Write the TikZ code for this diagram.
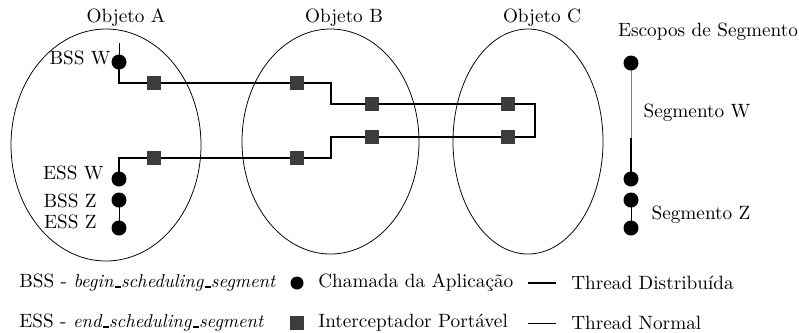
\documentclass[tikz,border=0pt]{standalone}
\usepackage{tikz}
\usetikzlibrary{shapes, backgrounds}
\newcommand{\pxu}{0.52pt}
\newcommand{\barra}{\kern.06em\rule{.32em}{0.9pt}\kern.02em}
\newcommand{\funcao}[1]{{\fontsize{9.7pt}{11pt}\selectfont\textit{#1}}}
\definecolor{interc}{RGB}{60,60,60}
\tikzstyle{objeto} = [ellipse, draw=black, thin, inner sep=0pt]
\tikzstyle{chamada} = [circle, fill=black, inner sep=0pt, minimum size=15*\pxu]
\tikzstyle{interceptor} = [rectangle, fill=interc, inner sep=0pt, minimum size=14*\pxu]
\tikzstyle{rotulo} = [inner sep=1pt, font=\normalsize]
\tikzstyle{distribuida} = [line width=2*\pxu, black]
\tikzstyle{normal} = [thin, black]

\begin{document}
\begin{tikzpicture}[x=\pxu, y=-\pxu]
\useasboundingbox (0,0) rectangle (799,332);

% objetos
\node (objA) [objeto, minimum width=190*\pxu, minimum height=232*\pxu] at (106,145) {};
\node (objB) [objeto, minimum width=177*\pxu, minimum height=225*\pxu] at (330.5,141.5) {};
\node (objC) [objeto, minimum width=150*\pxu, minimum height=225*\pxu] at (528,141.5) {};
\node (labelA) [rotulo] at (126,18) {Objeto A};
\node (labelB) [rotulo] at (344,18) {Objeto B};
\node (labelC) [rotulo] at (542,18) {Objeto C};

% chamadas da aplicacao no objeto A
\node (bssw) [chamada] at (119,62) {};
\node (essw) [chamada] at (119,179) {};
\node (bssz) [chamada] at (119,200) {};
\node (essz) [chamada] at (119,228) {};
\node (lbssw) [rotulo, anchor=east] at (113,58) {BSS W};
\node (lessw) [rotulo, anchor=east] at (106,173) {ESS W};
\node (lbssz) [rotulo, anchor=east] at (99,201) {BSS Z};
\node (lessz) [rotulo, anchor=east] at (99,222) {ESS Z};

% interceptadores
\node (ia1) [interceptor] at (154,83) {};
\node (ib1) [interceptor] at (297,83) {};
\node (ib2) [interceptor] at (372,104) {};
\node (ic1) [interceptor] at (508,104) {};
\node (ic2) [interceptor] at (508,137) {};
\node (ib3) [interceptor] at (372,137) {};
\node (ib4) [interceptor] at (297,158) {};
\node (ia2) [interceptor] at (154,158) {};

\coordinate (inicio) at (119,43);
\coordinate (descida) at (331,83);
\coordinate (subida) at (331,137);
\coordinate (volta) at (535,104);

\begin{pgfonlayer}{background}
\draw [normal] (inicio) -- (bssw.center);
\draw [distribuida] (bssw.center) |- (ia1.center) -- (ib1.center) -- (descida) |- (ib2.center) -- (ic1.center) -- (volta) |- (ic2.center) -- (ib3.center) -- (subida) |- (ib4.center) -- (ia2.center) -| (essw.center);
\draw [normal] (bssz.center) -- (essz.center);
\end{pgfonlayer}

% escopos de segmento
\node (escopos) [rotulo] at (708,32) {Escopos de Segmento};
\node (sw1) [chamada] at (631,63) {};
\node (sw2) [chamada] at (631,179) {};
\node (sz1) [chamada] at (631,200) {};
\node (sz2) [chamada] at (631,228) {};
\coordinate (meio) at (631,138);
\begin{pgfonlayer}{background}
\draw [thin, gray] (sw1.center) -- (meio);
\draw [line width=0.8pt, black] (meio) -- (sw2.center);
\draw [normal] (sz1.center) -- (sz2.center);
\end{pgfonlayer}
\node (segw) [rotulo] at (697,113) {Segmento W};
\node (segz) [rotulo] at (701,215) {Segmento Z};

% legenda
\node (leg1) [rotulo, anchor=west] at (17,283) {BSS - \funcao{begin\barra scheduling\barra segment}};
\node (leg2) [rotulo, anchor=west] at (17,323) {ESS - \funcao{end\barra scheduling\barra segment}};
\node (legdot) [chamada, minimum size=13*\pxu] at (297,283) {};
\node (legsq) [interceptor] at (297,323) {};
\node (legdottx) [rotulo, anchor=west] at (316,283) {Chamada da Aplicação};
\node (legsqtx) [rotulo, anchor=west] at (316,323) {Interceptador Portável};
\coordinate (d1) at (528,283);
\coordinate (d2) at (556,283);
\coordinate (n1) at (528,323);
\coordinate (n2) at (556,323);
\draw [distribuida] (d1) -- (d2);
\draw [normal] (n1) -- (n2);
\node (legdist) [rotulo, anchor=west] at (569,283) {Thread Distribuída};
\node (legnorm) [rotulo, anchor=west] at (569,323) {Thread Normal};

\end{tikzpicture}
\end{document}
